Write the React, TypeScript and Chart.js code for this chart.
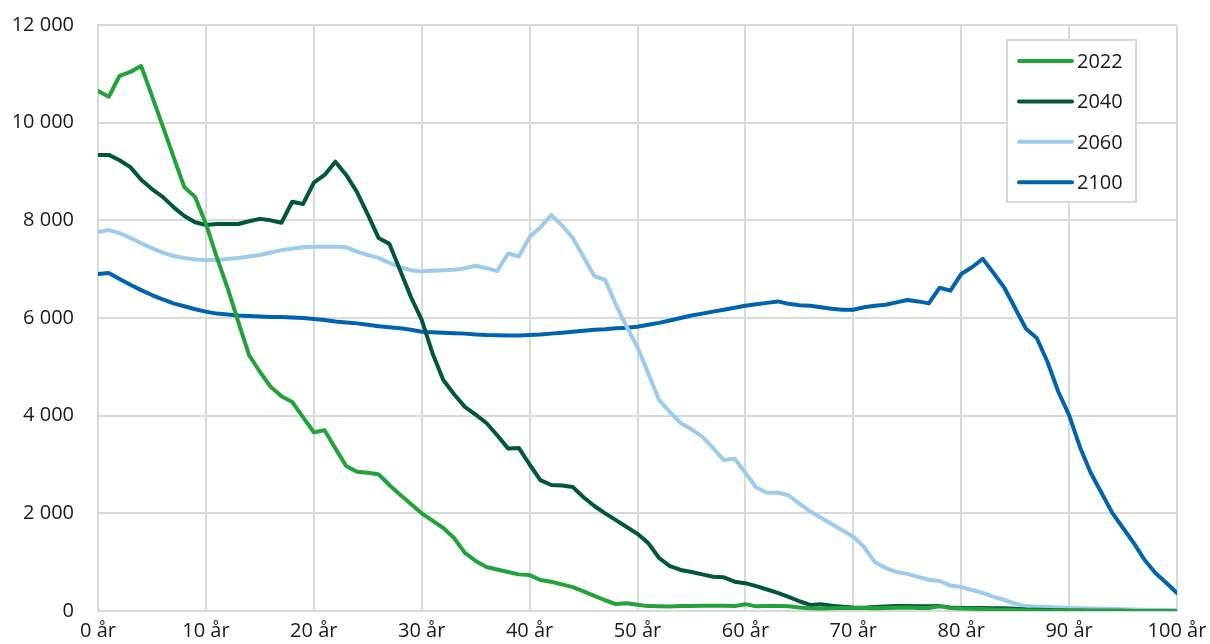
import React, { useEffect, useRef } from "react";
import { Chart, registerables } from "chart.js";

Chart.register(...registerables);

const ages: number[] = Array.from({ length: 101 }, (_, i) => i);

const seriesNames = ["2022", "2040", "2060", "2100"];
const seriesColors = ["#22a33a", "#00563f", "#9ccbee", "#0063b0"];

const y2022 = [
  10650, 10530, 10960, 11040, 11160, 10550, 9930, 9300, 8680, 8480,
  7930, 7250, 6620, 5920, 5240, 4900, 4590, 4400, 4280, 3970,
  3660, 3700, 3330, 2970, 2850, 2830, 2800, 2580, 2380, 2190,
  2000, 1850, 1700, 1495, 1190, 1025, 900, 850, 800, 750,
  735, 635, 600, 545, 490, 400, 310, 220, 143, 160,
  130, 100, 95, 90, 100, 100, 105, 105, 105, 100,
  140, 95, 100, 100, 95, 70, 55, 50, 55, 60,
  60, 60, 55, 60, 65, 70, 60, 60, 100, 60,
  50, 45, 40, 30, 25, 20, 15, 10, 10, 8,
  6, 5, 4, 3, 3, 2, 2, 1, 1, 1,
  1,
];

const y2040 = [
  9340, 9340, 9230, 9090, 8830, 8640, 8480, 8270, 8090, 7960,
  7905, 7925, 7925, 7925, 7980, 8030, 8000, 7950, 8380, 8335,
  8770, 8930, 9200, 8930, 8580, 8120, 7640, 7520, 6980, 6430,
  5960, 5280, 4730, 4440, 4180, 4020, 3850, 3600, 3330, 3340,
  3000, 2680, 2580, 2570, 2540, 2330, 2150, 2000, 1860, 1720,
  1580, 1390, 1085, 920, 840, 800, 750, 700, 690, 600,
  570, 510, 440, 370, 290, 200, 125, 140, 110, 85,
  70, 65, 80, 90, 100, 100, 95, 95, 100, 70,
  60, 60, 60, 55, 55, 45, 30, 25, 20, 15,
  10, 8, 6, 5, 4, 3, 2, 2, 1, 1,
  1,
];

const y2060 = [
  7760, 7800, 7740, 7640, 7530, 7430, 7340, 7270, 7230, 7200,
  7190, 7190, 7210, 7230, 7260, 7290, 7340, 7390, 7420, 7450,
  7460, 7460, 7460, 7450, 7360, 7290, 7230, 7130, 7040, 6980,
  6950, 6970, 6980, 6990, 7020, 7070, 7020, 6960, 7320, 7260,
  7660, 7860, 8110, 7900, 7640, 7250, 6860, 6780, 6270, 5820,
  5400, 4870, 4320, 4075, 3850, 3720, 3570, 3340, 3090, 3120,
  2830, 2530, 2420, 2420, 2370, 2200, 2040, 1910, 1780, 1650,
  1520, 1310, 1000, 880, 800, 760, 700, 640, 615, 520,
  490, 430, 370, 290, 225, 150, 100, 85, 80, 70,
  60, 55, 50, 45, 40, 35, 30, 25, 22, 20,
  15,
];

const y2100 = [
  6900, 6920, 6800, 6680, 6570, 6470, 6380, 6300, 6240, 6180,
  6130, 6090, 6070, 6050, 6040, 6030, 6020, 6020, 6010, 6000,
  5980, 5960, 5930, 5910, 5890, 5860, 5830, 5810, 5790, 5760,
  5720, 5710, 5700, 5690, 5680, 5660, 5650, 5645, 5640, 5640,
  5650, 5660, 5680, 5700, 5720, 5740, 5760, 5770, 5790, 5800,
  5820, 5860, 5900, 5950, 6000, 6050, 6090, 6130, 6170, 6210,
  6250, 6280, 6310, 6340, 6290, 6260, 6250, 6220, 6190, 6170,
  6170, 6220, 6250, 6270, 6320, 6370, 6340, 6300, 6620, 6560,
  6900, 7040, 7210, 6920, 6620, 6200, 5780, 5590, 5100, 4490,
  4010, 3360, 2830, 2420, 2010, 1700, 1390, 1045, 780, 580,
  370,
];

const seriesValues = [y2022, y2040, y2060, y2100];

const yMin = 0;
const yMax = 12000;
const yStep = 2000;
const xMin = 0;
const xMax = 100;
const xStep = 10;

const FONT = "'Open Sans', 'Noto Sans', sans-serif";
const FONT_SIZE = 20;
const TEXT = "#1a1a1a";
const GRID = "#d9d9d9";

const fmtThousands = (v: number) =>
  String(v).replace(/\B(?=(\d{3})+(?!\d))/g, " ");

const boxLegend = {
  id: "boxLegend",
  afterDraw(chart: any) {
    const ctx = chart.ctx as CanvasRenderingContext2D;
    const left = 1007;
    const top = 40;
    const w = 129;
    const h = 162;
    ctx.save();
    ctx.fillStyle = "#ffffff";
    ctx.fillRect(left, top, w, h);
    ctx.strokeStyle = GRID;
    ctx.lineWidth = 2;
    ctx.strokeRect(left, top, w, h);
    ctx.font = `${FONT_SIZE}px ${FONT}`;
    ctx.textBaseline = "middle";
    ctx.textAlign = "left";
    chart.data.datasets.forEach((ds: any, i: number) => {
      const y = 61 + i * 40.4;
      ctx.strokeStyle = ds.borderColor;
      ctx.lineWidth = 4;
      ctx.lineCap = "round";
      ctx.beginPath();
      ctx.moveTo(1019, y);
      ctx.lineTo(1072, y);
      ctx.stroke();
      ctx.fillStyle = TEXT;
      ctx.fillText(ds.label, 1077, y + 1);
    });
    ctx.restore();
  },
};

export default function App() {
  const canvasRef = useRef<HTMLCanvasElement | null>(null);

  useEffect(() => {
    if (!canvasRef.current) return;
    const chart = new Chart(canvasRef.current, {
      type: "line",
      data: {
        datasets: seriesNames.map((name, si) => ({
          label: name,
          data: ages.map((a, i) => ({ x: a, y: seriesValues[si][i] })),
          borderColor: seriesColors[si],
          backgroundColor: seriesColors[si],
          borderWidth: 4,
          pointRadius: 0,
          tension: 0,
          fill: false,
          borderJoinStyle: "round" as const,
          borderCapStyle: "round" as const,
        })),
      },
      options: {
        responsive: false,
        animation: false,
        layout: { padding: { top: 25, right: 33, left: 0, bottom: 0 } },
        plugins: {
          legend: { display: false },
          tooltip: { enabled: false },
        },
        scales: {
          x: {
            type: "linear",
            min: xMin,
            max: xMax,
            afterFit: (scale: any) => {
              scale.height = 33;
            },
            ticks: {
              stepSize: xStep,
              autoSkip: false,
              maxRotation: 0,
              padding: 0,
              color: TEXT,
              font: { family: FONT, size: FONT_SIZE },
              callback: (v: any) => `${v} år`,
            },
            grid: {
              color: GRID,
              lineWidth: 2,
              drawTicks: true,
              tickLength: 8,
              tickColor: "rgba(0,0,0,0)",
            },
            border: { color: GRID, width: 2 },
          },
          y: {
            type: "linear",
            min: yMin,
            max: yMax,
            afterFit: (scale: any) => {
              scale.width = 98;
            },
            ticks: {
              stepSize: yStep,
              padding: 0,
              color: TEXT,
              font: { family: FONT, size: FONT_SIZE },
              callback: (v: any) => fmtThousands(Number(v)),
            },
            grid: {
              color: GRID,
              lineWidth: 2,
              drawTicks: true,
              tickLength: 24,
              tickColor: "rgba(0,0,0,0)",
            },
            border: { color: GRID, width: 2 },
          },
        },
      },
      plugins: [boxLegend],
    });
    return () => chart.destroy();
  }, []);

  return (
    <div style={{ position: "fixed", left: 0, top: 0, width: 1210, height: 644, background: "#fff" }}>
      <canvas ref={canvasRef} width={1210} height={644} style={{ display: "block" }} />
    </div>
  );
}
